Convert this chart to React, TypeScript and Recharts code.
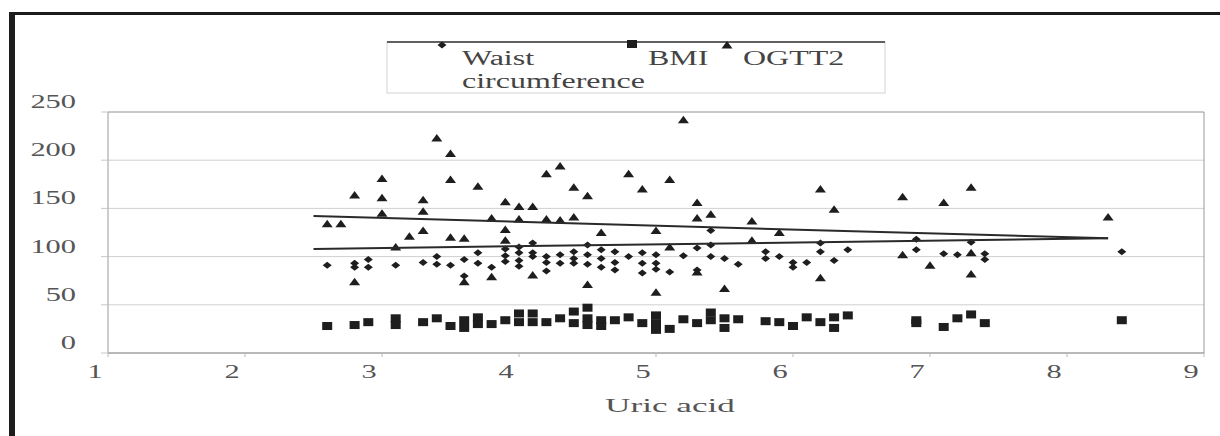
import { ScatterChart, Scatter, XAxis, YAxis, CartesianGrid, ReferenceLine } from "recharts";

type Pt = { x: number; y: number };

const xTicks = [1, 2, 3, 4, 5, 6, 7, 8, 9];
const yTicks = [0, 50, 100, 150, 200, 250];

// Waist circumference (diamonds)
const waistData: Pt[] = [
  { x: 2.6, y: 91 }, { x: 2.8, y: 93 }, { x: 2.8, y: 89 }, { x: 2.9, y: 97 }, { x: 2.9, y: 89 },
  { x: 3.1, y: 91 }, { x: 3.3, y: 94 }, { x: 3.4, y: 100 }, { x: 3.4, y: 92 }, { x: 3.5, y: 91 },
  { x: 3.6, y: 97 }, { x: 3.6, y: 80 }, { x: 3.7, y: 104 }, { x: 3.7, y: 93 }, { x: 3.8, y: 89 },
  { x: 3.9, y: 108 }, { x: 3.9, y: 101 }, { x: 3.9, y: 95 }, { x: 4.0, y: 110 }, { x: 4.0, y: 104 },
  { x: 4.0, y: 96 }, { x: 4.0, y: 90 }, { x: 4.1, y: 114 }, { x: 4.1, y: 104 }, { x: 4.1, y: 100 },
  { x: 4.2, y: 100 }, { x: 4.2, y: 94 }, { x: 4.2, y: 85 }, { x: 4.3, y: 102 }, { x: 4.3, y: 93 },
  { x: 4.4, y: 105 }, { x: 4.4, y: 98 }, { x: 4.4, y: 93 }, { x: 4.5, y: 112 }, { x: 4.5, y: 102 },
  { x: 4.5, y: 92 }, { x: 4.6, y: 107 }, { x: 4.6, y: 98 }, { x: 4.6, y: 89 }, { x: 4.7, y: 105 },
  { x: 4.7, y: 94 }, { x: 4.7, y: 86 }, { x: 4.8, y: 100 }, { x: 4.9, y: 104 }, { x: 4.9, y: 93 },
  { x: 4.9, y: 83 }, { x: 5.0, y: 102 }, { x: 5.0, y: 93 }, { x: 5.0, y: 87 }, { x: 5.1, y: 84 },
  { x: 5.2, y: 101 }, { x: 5.3, y: 109 }, { x: 5.3, y: 86 }, { x: 5.4, y: 127 }, { x: 5.4, y: 112 },
  { x: 5.4, y: 100 }, { x: 5.5, y: 98 }, { x: 5.6, y: 92 }, { x: 5.8, y: 105 }, { x: 5.8, y: 98 },
  { x: 5.9, y: 100 }, { x: 6.0, y: 94 }, { x: 6.0, y: 89 }, { x: 6.1, y: 94 }, { x: 6.2, y: 114 },
  { x: 6.2, y: 105 }, { x: 6.3, y: 96 }, { x: 6.4, y: 107 }, { x: 6.9, y: 118 }, { x: 6.9, y: 107 },
  { x: 7.1, y: 103 }, { x: 7.2, y: 102 }, { x: 7.3, y: 115 }, { x: 7.4, y: 103 }, { x: 7.4, y: 97 },
  { x: 8.4, y: 105 },
];

// BMI (squares)
const bmiData: Pt[] = [
  { x: 2.6, y: 28 }, { x: 2.8, y: 29 }, { x: 2.9, y: 32 }, { x: 3.1, y: 36 }, { x: 3.1, y: 29 },
  { x: 3.3, y: 32 }, { x: 3.4, y: 36 }, { x: 3.5, y: 28 }, { x: 3.6, y: 34 }, { x: 3.6, y: 26 },
  { x: 3.7, y: 37 }, { x: 3.7, y: 30 }, { x: 3.8, y: 30 }, { x: 3.9, y: 34 }, { x: 4.0, y: 41 },
  { x: 4.0, y: 32 }, { x: 4.1, y: 41 }, { x: 4.1, y: 32 }, { x: 4.2, y: 32 }, { x: 4.3, y: 36 },
  { x: 4.4, y: 43 }, { x: 4.4, y: 31 }, { x: 4.5, y: 47 }, { x: 4.5, y: 36 }, { x: 4.5, y: 29 },
  { x: 4.6, y: 34 }, { x: 4.6, y: 28 }, { x: 4.7, y: 34 }, { x: 4.8, y: 37 }, { x: 4.9, y: 31 },
  { x: 5.0, y: 39 }, { x: 5.0, y: 31 }, { x: 5.0, y: 24 }, { x: 5.1, y: 25 }, { x: 5.2, y: 35 },
  { x: 5.3, y: 31 }, { x: 5.4, y: 42 }, { x: 5.4, y: 34 }, { x: 5.5, y: 36 }, { x: 5.5, y: 26 },
  { x: 5.6, y: 35 }, { x: 5.8, y: 33 }, { x: 5.9, y: 32 }, { x: 6.0, y: 28 }, { x: 6.1, y: 37 },
  { x: 6.2, y: 32 }, { x: 6.3, y: 37 }, { x: 6.3, y: 26 }, { x: 6.4, y: 39 }, { x: 6.9, y: 34 },
  { x: 6.9, y: 31 }, { x: 7.1, y: 27 }, { x: 7.2, y: 36 }, { x: 7.3, y: 40 }, { x: 7.4, y: 31 },
  { x: 8.4, y: 34 },
];

// OGTT2 (triangles)
const ogttData: Pt[] = [
  { x: 2.6, y: 134 }, { x: 2.7, y: 134 }, { x: 2.8, y: 164 }, { x: 2.8, y: 74 }, { x: 3.0, y: 181 },
  { x: 3.0, y: 161 }, { x: 3.0, y: 145 }, { x: 3.1, y: 110 }, { x: 3.2, y: 121 }, { x: 3.3, y: 159 },
  { x: 3.3, y: 147 }, { x: 3.3, y: 127 }, { x: 3.4, y: 223 }, { x: 3.5, y: 207 }, { x: 3.5, y: 180 },
  { x: 3.5, y: 120 }, { x: 3.6, y: 119 }, { x: 3.6, y: 74 }, { x: 3.7, y: 173 }, { x: 3.8, y: 140 },
  { x: 3.8, y: 79 }, { x: 3.9, y: 157 }, { x: 3.9, y: 128 }, { x: 3.9, y: 117 }, { x: 4.0, y: 152 },
  { x: 4.0, y: 139 }, { x: 4.1, y: 152 }, { x: 4.1, y: 81 }, { x: 4.2, y: 186 }, { x: 4.2, y: 139 },
  { x: 4.3, y: 194 }, { x: 4.3, y: 138 }, { x: 4.4, y: 172 }, { x: 4.4, y: 141 }, { x: 4.5, y: 163 },
  { x: 4.5, y: 71 }, { x: 4.6, y: 125 }, { x: 4.8, y: 186 }, { x: 4.9, y: 170 }, { x: 5.0, y: 127 },
  { x: 5.0, y: 63 }, { x: 5.1, y: 180 }, { x: 5.1, y: 110 }, { x: 5.2, y: 242 }, { x: 5.3, y: 156 },
  { x: 5.3, y: 140 }, { x: 5.3, y: 84 }, { x: 5.4, y: 144 }, { x: 5.5, y: 67 }, { x: 5.7, y: 137 },
  { x: 5.7, y: 117 }, { x: 5.9, y: 125 }, { x: 6.2, y: 170 }, { x: 6.3, y: 149 }, { x: 6.2, y: 78 },
  { x: 6.8, y: 162 }, { x: 6.8, y: 102 }, { x: 7.0, y: 91 }, { x: 7.1, y: 156 }, { x: 7.3, y: 172 },
  { x: 7.3, y: 104 }, { x: 7.3, y: 82 }, { x: 8.3, y: 141 },
];

// linear trendlines
const ogttTrend: Pt[] = [{ x: 2.5, y: 142 }, { x: 8.3, y: 119 }];
const waistTrend: Pt[] = [{ x: 2.5, y: 108 }, { x: 8.3, y: 119 }];

const INK = "#1e1e1e";
const FONT = "'Liberation Serif', 'Times New Roman', serif";
const SX = 1.6; // the source picture is stretched sideways

const Diamond = (p: any) => (
  <polygon
    points={`${p.cx - 4.5},${p.cy} ${p.cx},${p.cy - 3.5} ${p.cx + 4.5},${p.cy} ${p.cx},${p.cy + 3.5}`}
    fill={INK}
  />
);
const Square = (p: any) => <rect x={p.cx - 5} y={p.cy - 4} width={10} height={8} fill={INK} />;
const Triangle = (p: any) => (
  <polygon
    points={`${p.cx - 5.5},${p.cy + 3.5} ${p.cx + 5.5},${p.cy + 3.5} ${p.cx},${p.cy - 4}`}
    fill={INK}
  />
);
const NoDot = () => <g />;

const YTick = (p: any) => (
  <text
    transform={`translate(${p.x - 23},${p.y - 4}) scale(${SX},1)`}
    textAnchor="end"
    fontFamily={FONT}
    fontSize={19}
    fill="#555"
  >
    {p.payload.value}
  </text>
);

const XTick = (p: any) => (
  <text
    transform={`translate(${p.x - 13},${p.y + 19}) scale(${SX},1)`}
    textAnchor="middle"
    fontFamily={FONT}
    fontSize={19}
    fill="#555"
  >
    {p.payload.value}
  </text>
);

function Overlay() {
  const t = (x: number, y: number, s = SX) => `translate(${x},${y}) scale(${s},1)`;
  return (
    <svg
      width={1220}
      height={436}
      style={{ position: "absolute", left: 0, top: 0, pointerEvents: "none" }}
    >
      {/* page frame */}
      <rect x={9} y={12} width={1211} height={3} fill="#1c1c1c" />
      <rect x={9} y={12} width={6} height={424} fill="#1c1c1c" />

      {/* legend */}
      <rect x={387} y={42} width={498} height={51} fill="#fff" stroke="#d4d4d4" />
      <line x1={387} y1={42} x2={885} y2={42} stroke="#333" strokeWidth={1.5} />
      <Diamond cx={442} cy={45} />
      <Square cx={632} cy={44} />
      <Triangle cx={727} cy={45} />
      <g fontFamily={FONT} fontSize={20} fill="#444">
        <text transform={t(462, 65)}>Waist</text>
        <text transform={t(462, 88)}>circumference</text>
        <text transform={t(648, 65)}>BMI</text>
        <text transform={t(743, 65)}>OGTT2</text>
      </g>

      {/* axis title */}
      <text transform={t(670, 412, 1.85)} textAnchor="middle" fontFamily={FONT} fontSize={19} fill="#555">
        Uric acid
      </text>
    </svg>
  );
}

export default function App() {
  return (
    <div style={{ position: "absolute", left: 0, top: 0, width: 1220, height: 436, background: "#fff" }}>
      <ScatterChart width={1220} height={436} margin={{ top: 112, right: 16, bottom: 53, left: 48 }}>
        <CartesianGrid vertical={false} stroke="#d0d0d0" />
        <XAxis
          type="number"
          dataKey="x"
          domain={[1, 9]}
          ticks={xTicks}
          height={30}
          axisLine={{ stroke: "#8a8a8a" }}
          tickLine={{ stroke: "#bbb" }}
          tickSize={4}
          tick={<XTick />}
        />
        <YAxis
          type="number"
          dataKey="y"
          domain={[0, 250]}
          ticks={yTicks}
          width={60}
          axisLine={{ stroke: "#9a9a9a" }}
          tickLine={{ stroke: "#c8c8c8" }}
          tickSize={7}
          tick={<YTick />}
        />
        <ReferenceLine x={9} stroke="#9a9a9a" />
        <ReferenceLine y={250} stroke="#aaa" />
        <Scatter name="Waist circumference" data={waistData} shape={Diamond} isAnimationActive={false} />
        <Scatter name="BMI" data={bmiData} shape={Square} isAnimationActive={false} />
        <Scatter name="OGTT2" data={ogttData} shape={Triangle} isAnimationActive={false} />
        <Scatter
          data={ogttTrend}
          line={{ stroke: "#2a2a2a", strokeWidth: 2 }}
          shape={NoDot}
          legendType="none"
          isAnimationActive={false}
        />
        <Scatter
          data={waistTrend}
          line={{ stroke: "#2a2a2a", strokeWidth: 2 }}
          shape={NoDot}
          legendType="none"
          isAnimationActive={false}
        />
      </ScatterChart>
      <Overlay />
    </div>
  );
}
